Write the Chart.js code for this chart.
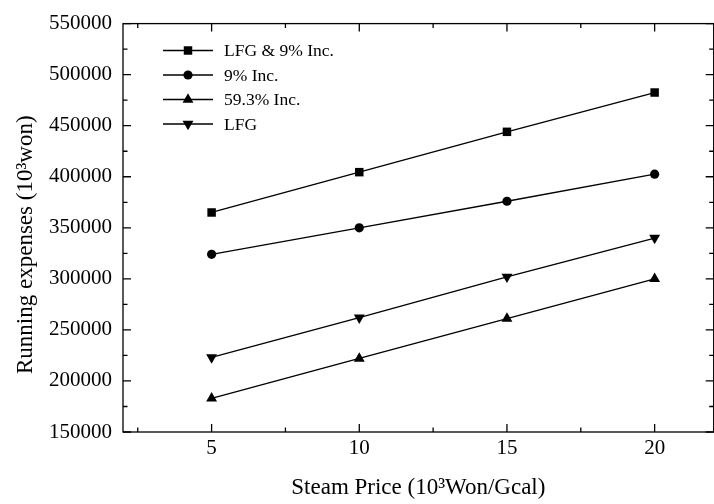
<!DOCTYPE html>
<html>
<head>
<meta charset="utf-8">
<script src="https://cdn.jsdelivr.net/npm/chart.js@4.4.1/dist/chart.umd.min.js"></script>
<style>
  html, body { margin: 0; padding: 0; background: #fff; overflow: hidden; }
  #chart { display: block; }
</style>
</head>
<body>
<canvas id="chart" width="720" height="504"></canvas>
<script>
// Data
const steamPrice = [5, 10, 15, 20];
const lfgInc9 = [365000, 404500, 444000, 482500];
const inc9 = [324000, 350000, 376000, 402500];
const inc593 = [183000, 222000, 261000, 300000];
const lfg = [223000, 262000, 302000, 340000];

const seriesLabels = ['LFG & 9% Inc.', '9% Inc.', '59.3% Inc.', 'LFG'];

// Axis ticks
const xTicks = [5, 10, 15, 20];
const xMinorTicks = [2.5, 7.5, 12.5, 17.5];
const yTicks = [150000, 200000, 250000, 300000, 350000, 400000, 450000, 500000, 550000];
const yMinorTicks = [175000, 225000, 275000, 325000, 375000, 425000, 475000, 525000];

const xTitle = 'Steam Price (10\u00B3Won/Gcal)';
const yTitle = 'Running expenses (10\u00B3won)';

const FONT = "'Liberation Serif', 'Times New Roman', serif";

function toPoints(ys) {
    return steamPrice.map((x, i) => ({ x: x, y: ys[i] }));
}

function makeDataset(label, values, style, radius, rotation) {
    return {
        label: label,
        data: toPoints(values),
        borderColor: '#000',
        backgroundColor: '#000',
        borderWidth: 1.3,
        tension: 0,
        pointStyle: style,
        pointRadius: radius,
        pointRotation: rotation,
        pointBackgroundColor: '#000',
        pointBorderColor: '#000',
        pointBorderWidth: 0,
        clip: false
    };
}

// Frame with inward ticks, legend and axis titles
const framePlugin = {
    id: 'framePlugin',
    afterDraw(chart) {
        const ctx = chart.ctx;
        const a = chart.chartArea;
        const xs = chart.scales.x;
        const ys = chart.scales.y;

        ctx.save();
        ctx.strokeStyle = '#000';
        ctx.lineWidth = 1.3;
        ctx.strokeRect(a.left, a.top, a.right - a.left, a.bottom - a.top);

        ctx.beginPath();
        const xTick = (v, len) => {
            const p = xs.getPixelForValue(v);
            ctx.moveTo(p, a.bottom); ctx.lineTo(p, a.bottom - len);
            ctx.moveTo(p, a.top); ctx.lineTo(p, a.top + len);
        };
        const yTick = (v, len) => {
            const p = ys.getPixelForValue(v);
            ctx.moveTo(a.left, p); ctx.lineTo(a.left + len, p);
            ctx.moveTo(a.right, p); ctx.lineTo(a.right - len, p);
        };
        xTicks.forEach(v => xTick(v, 8));
        xMinorTicks.forEach(v => xTick(v, 4.5));
        yTicks.forEach(v => yTick(v, 8));
        yMinorTicks.forEach(v => yTick(v, 4.5));
        ctx.stroke();

        // legend
        ctx.font = '17.5px ' + FONT;
        ctx.textAlign = 'left';
        ctx.textBaseline = 'middle';
        chart.data.datasets.forEach((ds, i) => {
            const y = 50.5 + i * 24.5;
            ctx.beginPath();
            ctx.lineWidth = 1.3;
            ctx.moveTo(163, y);
            ctx.lineTo(213, y);
            ctx.stroke();
            ctx.fillStyle = '#000';
            Chart.helpers.drawPoint(ctx, {
                pointStyle: ds.pointStyle,
                radius: ds.pointRadius,
                rotation: ds.pointRotation,
                borderWidth: 0
            }, 188, y);
            ctx.fillText(ds.label, 224, y + 1);
        });

        // axis titles
        ctx.fillStyle = '#000';
        ctx.font = '23px ' + FONT;
        ctx.textAlign = 'center';
        ctx.textBaseline = 'alphabetic';
        ctx.fillText(xTitle, (a.left + a.right) / 2, 494);

        ctx.translate(32, 374);
        ctx.rotate(-Math.PI / 2);
        ctx.textAlign = 'left';
        ctx.fillText(yTitle, 0, 0);
        ctx.restore();
    }
};

const ctx = document.getElementById('chart');

new Chart(ctx, {
    type: 'line',
    data: {
        datasets: [
            makeDataset(seriesLabels[0], lfgInc9, 'rect', 6, 0),
            makeDataset(seriesLabels[1], inc9, 'circle', 4.6, 0),
            makeDataset(seriesLabels[2], inc593, 'triangle', 6.3, 0),
            makeDataset(seriesLabels[3], lfg, 'triangle', 6.3, 180)
        ]
    },
    options: {
        responsive: false,
        animation: false,
        devicePixelRatio: 1,
        layout: { padding: { top: 16, right: 3, left: 0, bottom: 0 } },
        plugins: {
            legend: { display: false },
            tooltip: { enabled: false }
        },
        scales: {
            x: {
                type: 'linear',
                position: 'bottom',
                min: 2,
                max: 22,
                afterBuildTicks: s => { s.ticks = xTicks.map(v => ({ value: v })); },
                afterFit: s => { s.height = 72; },
                grid: { display: false, drawTicks: false },
                border: { display: false },
                ticks: {
                    color: '#000',
                    font: { family: FONT, size: 21 },
                    padding: 4,
                    maxRotation: 0
                }
            },
            y: {
                type: 'linear',
                min: 150000,
                max: 550000,
                afterBuildTicks: s => { s.ticks = yTicks.map(v => ({ value: v })); },
                afterFit: s => { s.width = 123; },
                grid: { display: false, drawTicks: false },
                border: { display: false },
                ticks: {
                    color: '#000',
                    font: { family: FONT, size: 21 },
                    padding: 11,
                    callback: v => String(v)
                }
            }
        }
    },
    plugins: [framePlugin]
});
</script>
</body>
</html>
